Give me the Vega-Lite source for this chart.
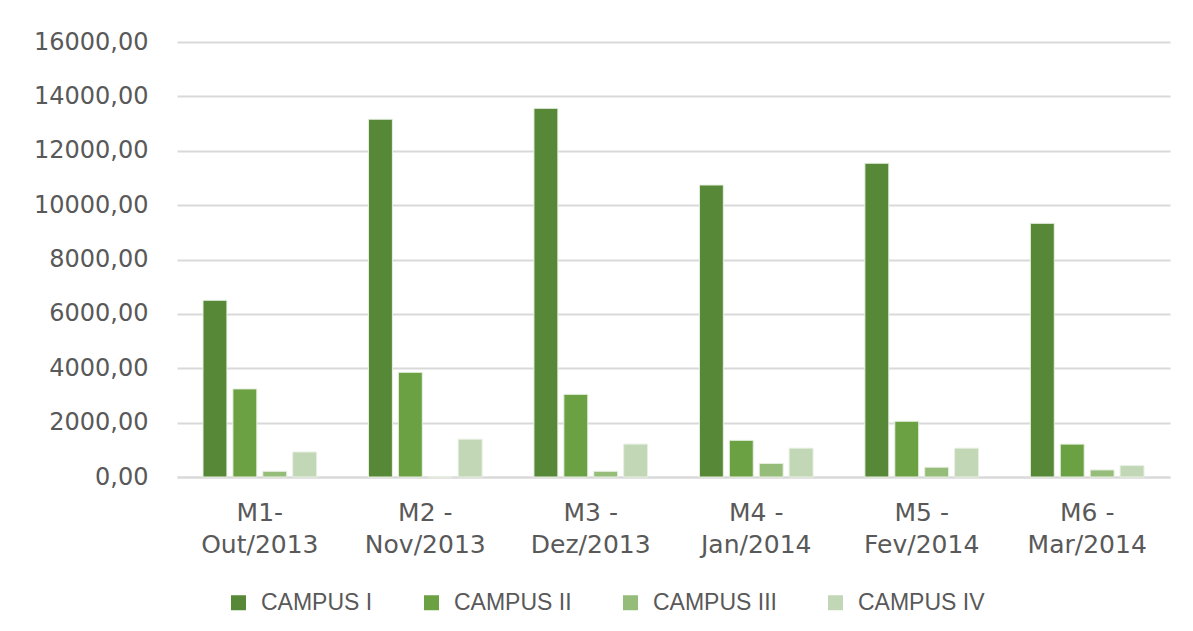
{
  "$schema": "https://vega.github.io/schema/vega-lite/v6.json",
  "autosize": "none",
  "width": 993,
  "height": 435,
  "padding": {"left": 177, "top": 42, "right": 23, "bottom": 154},
  "background": "white",
  "data": {
    "values": [
      {"mes": "M1-\nOut/2013", "campus": "CAMPUS I", "valor": 6500},
      {"mes": "M1-\nOut/2013", "campus": "CAMPUS II", "valor": 3240},
      {"mes": "M1-\nOut/2013", "campus": "CAMPUS III", "valor": 210},
      {"mes": "M1-\nOut/2013", "campus": "CAMPUS IV", "valor": 920},
      {"mes": "M2 -\nNov/2013", "campus": "CAMPUS I", "valor": 13160},
      {"mes": "M2 -\nNov/2013", "campus": "CAMPUS II", "valor": 3850},
      {"mes": "M2 -\nNov/2013", "campus": "CAMPUS III", "valor": 0},
      {"mes": "M2 -\nNov/2013", "campus": "CAMPUS IV", "valor": 1390},
      {"mes": "M3 -\nDez/2013", "campus": "CAMPUS I", "valor": 13560},
      {"mes": "M3 -\nDez/2013", "campus": "CAMPUS II", "valor": 3040},
      {"mes": "M3 -\nDez/2013", "campus": "CAMPUS III", "valor": 210},
      {"mes": "M3 -\nDez/2013", "campus": "CAMPUS IV", "valor": 1210},
      {"mes": "M4 -\nJan/2014", "campus": "CAMPUS I", "valor": 10740},
      {"mes": "M4 -\nJan/2014", "campus": "CAMPUS II", "valor": 1350},
      {"mes": "M4 -\nJan/2014", "campus": "CAMPUS III", "valor": 500},
      {"mes": "M4 -\nJan/2014", "campus": "CAMPUS IV", "valor": 1060},
      {"mes": "M5 -\nFev/2014", "campus": "CAMPUS I", "valor": 11540},
      {"mes": "M5 -\nFev/2014", "campus": "CAMPUS II", "valor": 2050},
      {"mes": "M5 -\nFev/2014", "campus": "CAMPUS III", "valor": 360},
      {"mes": "M5 -\nFev/2014", "campus": "CAMPUS IV", "valor": 1060},
      {"mes": "M6 -\nMar/2014", "campus": "CAMPUS I", "valor": 9330},
      {"mes": "M6 -\nMar/2014", "campus": "CAMPUS II", "valor": 1210},
      {"mes": "M6 -\nMar/2014", "campus": "CAMPUS III", "valor": 260},
      {"mes": "M6 -\nMar/2014", "campus": "CAMPUS IV", "valor": 420}
    ]
  },
  "mark": {"type": "bar", "stroke": "#e8f0e2", "strokeWidth": 1},
  "encoding": {
    "x": {
      "field": "mes",
      "type": "nominal",
      "sort": null,
      "title": null,
      "scale": {"paddingInner": 0.277, "paddingOuter": 0.139},
      "axis": {
        "labelAngle": 0,
        "labelExpr": "split(datum.label, '\\n')",
        "labelFont": "DejaVu Sans",
        "labelFontSize": 25,
        "labelColor": "#595959",
        "labelLineHeight": 32,
        "labelPadding": 23,
        "ticks": false,
        "domainColor": "#d9d9d9",
        "domainWidth": 2,
        "grid": false
      }
    },
    "xOffset": {
      "field": "campus",
      "type": "nominal",
      "scale": {"paddingInner": 0.2, "paddingOuter": 0.1}
    },
    "y": {
      "field": "valor",
      "type": "quantitative",
      "title": null,
      "scale": {"domain": [0, 16000], "nice": false},
      "axis": {
        "values": [0, 2000, 4000, 6000, 8000, 10000, 12000, 14000, 16000],
        "labelExpr": "replace(format(datum.value, '.2f'), '.', ',')",
        "labelFont": "DejaVu Sans",
        "labelFontSize": 24,
        "labelColor": "#595959",
        "labelPadding": 29,
        "ticks": false,
        "domain": false,
        "gridColor": "#d9d9d9",
        "gridWidth": 2
      }
    },
    "color": {
      "field": "campus",
      "type": "nominal",
      "title": null,
      "scale": {
        "domain": ["CAMPUS I", "CAMPUS II", "CAMPUS III", "CAMPUS IV"],
        "range": ["#578838", "#6ba143", "#95bd79", "#c1d7b5"]
      },
      "legend": {
        "orient": "none",
        "legendX": 50,
        "legendY": 549,
        "direction": "horizontal",
        "symbolType": "square",
        "symbolSize": 225,
        "symbolStrokeWidth": 0,
        "labelFont": "Liberation Sans",
        "labelFontSize": 23,
        "labelColor": "#595959",
        "labelOffset": 11,
        "columnPadding": 47
      }
    }
  },
  "config": {
    "view": {"stroke": null}
  }
}
